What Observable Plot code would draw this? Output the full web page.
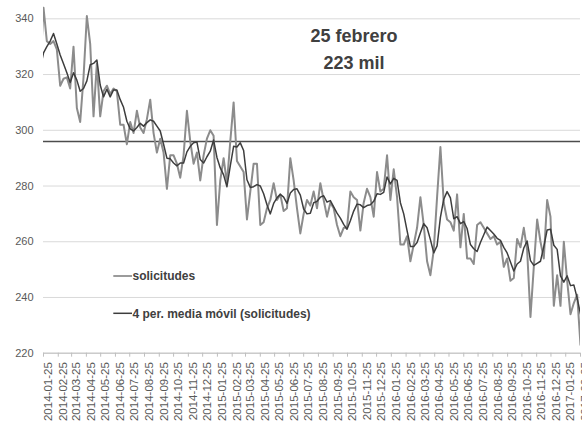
<!DOCTYPE html>
<html><head><meta charset="utf-8">
<script src="https://cdn.jsdelivr.net/npm/d3@7"></script>
<script src="https://cdn.jsdelivr.net/npm/@observablehq/plot@0.6"></script>
<style>html,body{margin:0;padding:0;background:#fff;} #chart{width:582px;height:421px;overflow:hidden}</style>
</head><body><div id="chart"></div>
<script>
// weekly initial claims (thousands), Saturdays 2014-01-04 .. 2017-02-25
const solicitudes = [
323,323,321,
344,332,331,332,329,316,318.5,319,315,330,
308,303,319,341,331,305,324,305,314,316,
313,315,314,302,302,295,303,299,307,301,
299,304,311,299,292,297,292,279,291,291,
288,283,291,307,296,288,292,282,291,297,
300,298,266,282,290,281,296,310,289,287,
285,268,278,288,288,266,267,272,275,281,
275,277,271,272,290,282,272,263,270,275,
273,278,272,281,275,269,274,272,266,262,
265,265,278,276,275,264,274,279,276,269,
285,278,279,291,275,286,276,259,259,262,
253,259,265,276,266,253,248,257,276,294,
274,268,267,264,277,258,270,254,254,252,
266,267,265,263,261,262,259,260,251,254,
246,247,261,258,265,257,233,251,268,260,
254,275,269,237,248,237,260,246,234,238,
241,223];
const firstWeek = "2014-01-04";
const lastWeek = "2017-02-25";
const yTicks = [220, 240, 260, 280, 300, 320, 340];
const xTickLabels = [
"2014-01-25","2014-02-25","2014-03-25","2014-04-25","2014-05-25","2014-06-25","2014-07-25","2014-08-25","2014-09-25","2014-10-25","2014-11-25","2014-12-25",
"2015-01-25","2015-02-25","2015-03-25","2015-04-25","2015-05-25","2015-06-25","2015-07-25","2015-08-25","2015-09-25","2015-10-25","2015-11-25","2015-12-25",
"2016-01-25","2016-02-25","2016-03-25","2016-04-25","2016-05-25","2016-06-25","2016-07-25","2016-08-25","2016-09-25","2016-10-25","2016-11-25","2016-12-25",
"2017-01-25","2017-02-25"];
const refLevel = [296];
const titleLines = ["25 febrero", "223 mil"];
const seriesNames = ["solicitudes", "4 per. media móvil (solicitudes)"];
const seriesColors = ["#8c8c8c", "#3d3d3d"];

const weeks = d3.utcSaturday.range(new Date(firstWeek), d3.utcDay.offset(new Date(lastWeek), 1));
const table = weeks.map((d, i) => ({date: d, value: solicitudes[i]}));
const xTicks = xTickLabels.map(s => new Date(s));
const fmt = d3.utcFormat("%Y-%m-%d");

const chart = Plot.plot({
  width: 582, height: 421,
  marginLeft: 43, marginRight: 2, marginTop: 4.4, marginBottom: 68.3,
  style: {fontFamily: "'Liberation Sans', Arial, sans-serif", background: "#fff"},
  x: {type: "utc", domain: [xTicks[0], xTicks[xTicks.length - 1]], label: null},
  y: {domain: [220, 345], label: null},
  marks: [
    Plot.gridY(yTicks, {stroke: "#d9d9d9", strokeOpacity: 1}),
    Plot.ruleY([220], {stroke: "#bfbfbf"}),
    Plot.axisY(yTicks, {tickSize: 0, tickPadding: 10, fontSize: 11, fill: "#595959", label: null}),
    Plot.axisX(xTicks, {tickSize: 4, stroke: "#bfbfbf", fill: "none", tickFormat: fmt, label: null}),
    Plot.axisX(xTicks, {tickSize: 0, tickPadding: 9, tickRotate: -90, tickFormat: fmt, fill: "#595959", fontSize: 11.5, dx: 5, label: null}),
    Plot.ruleY(refLevel, {stroke: "#4d4d4d", strokeWidth: 1.6}),
    Plot.line(table, {x: "date", y: "value", stroke: seriesColors[0], strokeWidth: 2, clip: true}),
    Plot.line(table, Plot.windowY({k: 4, anchor: "end"}, {x: "date", y: "value", stroke: seriesColors[1], strokeWidth: 1.5, clip: true}))
  ]
});
document.getElementById("chart").appendChild(chart);

const svg = d3.select(chart);
const t = svg.append("text").attr("text-anchor", "middle").attr("fill", "#404040")
  .attr("font-weight", "bold").attr("font-size", 18)
  .attr("font-family", "'Liberation Sans', Arial, sans-serif");
t.append("tspan").attr("x", 354).attr("y", 41.7).text(titleLines[0]);
t.append("tspan").attr("x", 354).attr("y", 69).text(titleLines[1]);

const legY = [276, 313.3];
seriesNames.forEach((name, i) => {
  svg.append("line").attr("x1", 113.3).attr("x2", 132).attr("y1", legY[i]).attr("y2", legY[i])
    .attr("stroke", i === 0 ? "#7a7a7a" : "#3d3d3d").attr("stroke-width", 1.5);
  svg.append("text").attr("x", 132.5).attr("y", legY[i] + 4.4).attr("text-anchor", "start")
    .attr("fill", "#404040").attr("font-weight", "bold").attr("font-size", 12)
    .attr("font-family", "'Liberation Sans', Arial, sans-serif").text(name);
});
</script></body></html>
